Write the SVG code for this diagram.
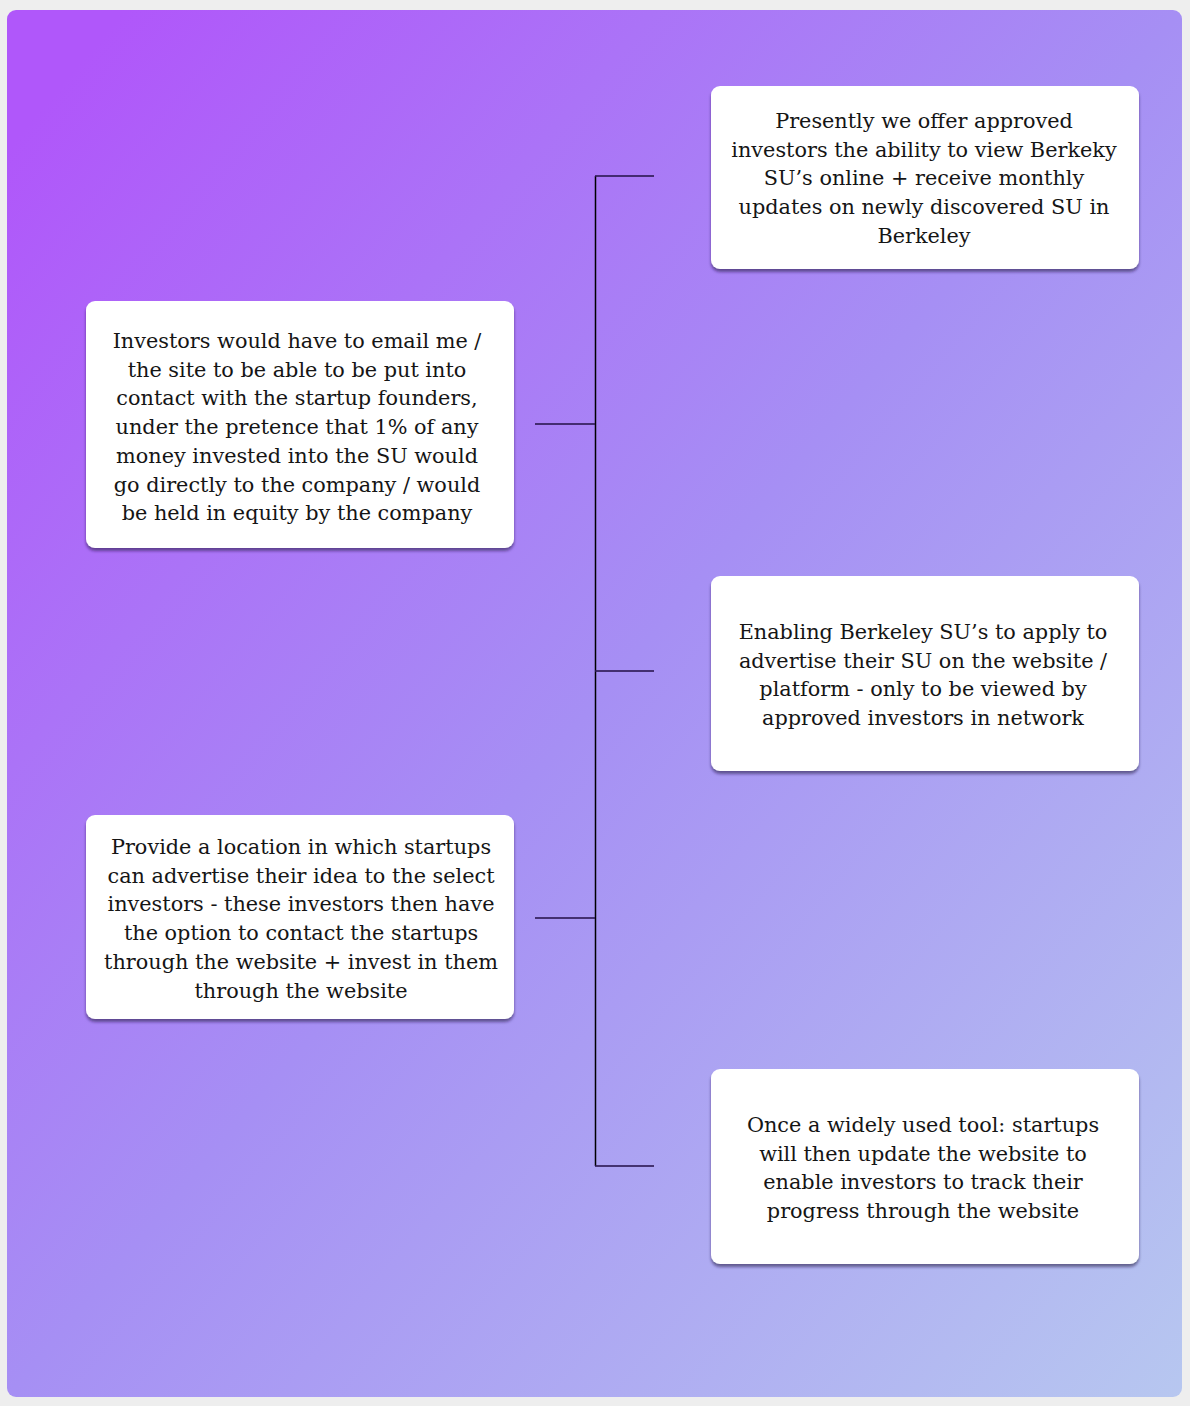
<svg xmlns="http://www.w3.org/2000/svg" width="1190" height="1406" viewBox="0 0 1190 1406">
<defs>
<linearGradient id="bg" x1="0" y1="0" x2="1" y2="1">
<stop offset="0.05" stop-color="#b057fa"/>
<stop offset="0.5" stop-color="#a68ff4"/>
<stop offset="1" stop-color="#b7c7f0"/>
</linearGradient>
<filter id="sh" x="-5%" y="-5%" width="110%" height="115%">
<feDropShadow dx="0" dy="3" stdDeviation="1.5" flood-color="#1a1040" flood-opacity="0.55"/>
</filter>
</defs>
<style>
.box{fill:#ffffff;filter:url(#sh);}
.t{font-family:"DejaVu Serif","Liberation Serif",serif;font-size:20.8px;fill:#151515;text-anchor:middle;}
.stub{stroke:#2a1650;stroke-width:2;stroke-opacity:0.8;fill:none;}
.trunk{stroke:#000;stroke-width:1.5;fill:none;}
</style>
<rect x="0" y="0" width="1190" height="1406" fill="#eeeeee"/>
<rect x="7" y="10" width="1175" height="1387" rx="9" fill="url(#bg)"/>
<g id="connectors">
<line class="trunk" x1="595.5" y1="176" x2="595.5" y2="1166"/>
<line class="stub" x1="535" y1="424" x2="595" y2="424"/>
<line class="stub" x1="535" y1="918" x2="595" y2="918"/>
<line class="stub" x1="595" y1="176" x2="654" y2="176"/>
<line class="stub" x1="595" y1="671" x2="654" y2="671"/>
<line class="stub" x1="595" y1="1166" x2="654" y2="1166"/>
</g>
<g id="node-investors-email">
<rect class="box" x="86" y="301" width="428" height="247" rx="9"/>
<text class="t"><tspan x="297" y="348">Investors would have to email me /</tspan><tspan x="297" y="376.7">the site to be able to be put into</tspan><tspan x="297" y="405.4">contact with the startup founders,</tspan><tspan x="297" y="434">under the pretence that 1% of any</tspan><tspan x="297" y="462.8">money invested into the SU would</tspan><tspan x="297" y="491.5">go directly to the company / would</tspan><tspan x="297" y="520.2">be held in equity by the company</tspan></text>
</g>
<g id="node-presently">
<rect class="box" x="711" y="86" width="428" height="183" rx="9"/>
<text class="t"><tspan x="924" y="128">Presently we offer approved</tspan><tspan x="924" y="156.7">investors the ability to view Berkeky</tspan><tspan x="924" y="185.4">SU’s online + receive monthly</tspan><tspan x="924" y="214">updates on newly discovered SU in</tspan><tspan x="924" y="242.8">Berkeley</tspan></text>
</g>
<g id="node-enabling">
<rect class="box" x="711" y="576" width="428" height="195" rx="9"/>
<text class="t"><tspan x="923" y="639">Enabling Berkeley SU’s to apply to</tspan><tspan x="923" y="667.7">advertise their SU on the website /</tspan><tspan x="923" y="696.4">platform - only to be viewed by</tspan><tspan x="923" y="725">approved investors in network</tspan></text>
</g>
<g id="node-location">
<rect class="box" x="86" y="815" width="428" height="204" rx="9"/>
<text class="t"><tspan x="301" y="854">Provide a location in which startups</tspan><tspan x="301" y="882.7">can advertise their idea to the select</tspan><tspan x="301" y="911.4">investors - these investors then have</tspan><tspan x="301" y="940">the option to contact the startups</tspan><tspan x="301" y="968.8">through the website + invest in them</tspan><tspan x="301" y="997.5">through the website</tspan></text>
</g>
<g id="node-widely-used">
<rect class="box" x="711" y="1069" width="428" height="195" rx="9"/>
<text class="t"><tspan x="923" y="1132">Once a widely used tool: startups</tspan><tspan x="923" y="1160.7">will then update the website to</tspan><tspan x="923" y="1189.4">enable investors to track their</tspan><tspan x="923" y="1218">progress through the website</tspan></text>
</g>
</svg>
